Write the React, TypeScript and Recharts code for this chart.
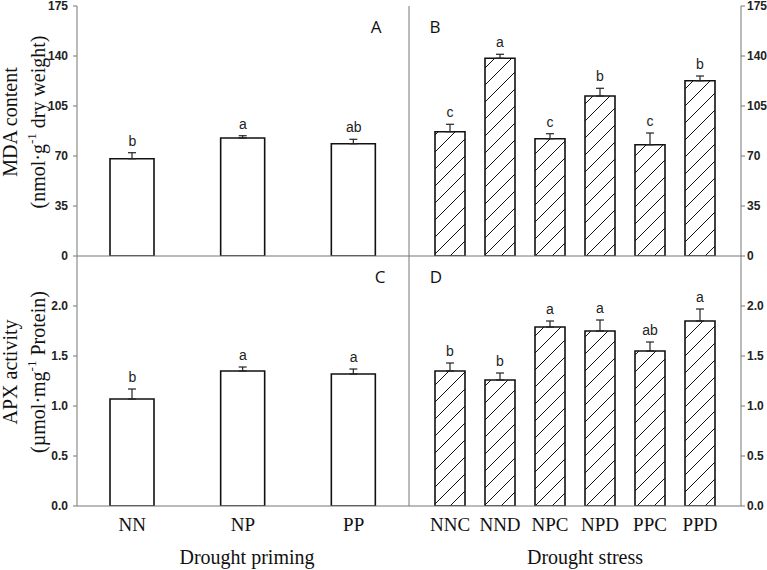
import {
  Bar,
  ComposedChart,
  ErrorBar,
  LabelList,
  Line,
  XAxis,
  YAxis
} from "recharts";

const primingCats = ["NN", "NP", "PP"];
const stressCats = ["NNC", "NND", "NPC", "NPD", "PPC", "PPD"];

const mdaPriming = [68.1, 82.6, 78.6];
const mdaPrimingErr = [4.2, 1.6, 3.1];
const mdaPrimingSig = ["b", "a", "ab"];

const mdaStress = [87.0, 138.4, 82.1, 112.0, 77.9, 122.7];
const mdaStressErr = [5.2, 2.8, 3.5, 5.4, 8.2, 3.3];
const mdaStressSig = ["c", "a", "c", "b", "c", "b"];

const apxPriming = [1.07, 1.35, 1.32];
const apxPrimingErr = [0.1, 0.04, 0.05];
const apxPrimingSig = ["b", "a", "a"];

const apxStress = [1.35, 1.26, 1.79, 1.75, 1.55, 1.85];
const apxStressErr = [0.08, 0.07, 0.06, 0.11, 0.09, 0.12];
const apxStressSig = ["b", "b", "a", "a", "ab", "a"];

const mdaTicks = [0, 35, 70, 105, 140, 175];
const apxTicks = [0, 0.5, 1.0, 1.5, 2.0];

const AXIS = "#777";
const SERIF = "'Liberation Serif', 'Times New Roman', serif";
const SANS = "'Liberation Sans', Arial, sans-serif";

function rows(cats: string[], vals: number[], errs: number[], sigs: string[]) {
  return cats.map((c, i) => ({
    cat: c,
    v: vals[i],
    err: [0, errs[i]],
    top: vals[i] + errs[i],
    sig: sigs[i]
  }));
}

function yTitle(line1: string, pre: string, post: string) {
  return (props: any) => {
    const vb = props.viewBox;
    const cy = vb.y + vb.height / 2 - 9;
    return (
      <g fontFamily={SERIF} fontSize={20} fill="#111">
        <text x={10} y={cy} transform={`rotate(-90 10 ${cy})`} textAnchor="middle" dominantBaseline="central">
          {line1}
        </text>
        <text x={38} y={cy} transform={`rotate(-90 38 ${cy})`} textAnchor="middle" dominantBaseline="central">
          {pre}
          <tspan dy={-7} fontSize={13}>-1</tspan>
          <tspan dy={7}>{post}</tspan>
        </text>
      </g>
    );
  };
}

type PanelProps = {
  data: any[];
  left: number;
  top: number;
  right?: boolean;
  bottom?: boolean;
  letter: string;
  letterX: number;
  ticks: number[];
  max: number;
  fmt: (v: number) => string;
  title?: any;
  xTitle?: string;
  xTitleDx?: number;
};

function Panel(p: PanelProps) {
  const width = p.right ? 367 : 420;
  const height = p.bottom ? 320 : 262;
  const tickStyle = { fontFamily: SANS, fontSize: 12, fontWeight: 700, fill: "#222" };
  return (
    <div style={{ position: "absolute", left: p.left, top: p.top }}>
      <ComposedChart
        width={width}
        height={height}
        data={p.data}
        margin={{ top: 6, right: p.right ? 0 : 11, bottom: 0, left: 0 }}
      >
        <defs>
          <pattern id="hatch" patternUnits="userSpaceOnUse" width={17} height={17}>
            <path d="M0,17 L17,0 M-4,4 L4,-4 M13,21 L21,13" stroke="#111" strokeWidth={1} />
          </pattern>
        </defs>
        <XAxis
          xAxisId="top"
          orientation="top"
          dataKey="cat"
          height={0}
          tick={false}
          tickLine={false}
          axisLine={{ stroke: AXIS }}
          padding={p.right ? { left: 16, right: 16 } : undefined}
        />
        <XAxis
          dataKey="cat"
          height={p.bottom ? 64 : 6}
          tick={p.bottom ? { fontFamily: SERIF, fontSize: 19, fill: "#111" } : false}
          tickLine={false}
          tickSize={0}
          tickMargin={12}
          interval={0}
          axisLine={{ stroke: AXIS }}
          padding={p.right ? { left: 16, right: 16 } : undefined}
          label={
            p.xTitle
              ? {
                  value: p.xTitle,
                  position: "insideBottom",
                  offset: 6,
                  dx: p.xTitleDx,
                  fontFamily: SERIF,
                  fontSize: 20,
                  fill: "#111"
                }
              : undefined
          }
        />
        <YAxis
          yAxisId="l"
          width={p.right ? 9 : 77}
          domain={[0, p.max]}
          ticks={p.right ? undefined : p.ticks}
          interval={0}
          tick={p.right ? false : tickStyle}
          tickLine={p.right ? false : { stroke: AXIS }}
          tickSize={4}
          tickMargin={5}
          tickFormatter={p.fmt}
          axisLine={{ stroke: AXIS }}
          allowDataOverflow
          label={p.title ? { content: p.title } : undefined}
        />
        <YAxis
          yAxisId="r"
          orientation="right"
          width={p.right ? 26 : 0}
          domain={[0, p.max]}
          ticks={p.ticks}
          interval={0}
          hide={!p.right}
          tick={tickStyle}
          tickLine={{ stroke: AXIS }}
          tickSize={4}
          tickMargin={2}
          tickFormatter={p.fmt}
          axisLine={{ stroke: AXIS }}
          allowDataOverflow
        />
        <Bar
          yAxisId="r"
          dataKey="v"
          fill={p.right ? "url(#hatch)" : "#fff"}
          stroke="#111"
          strokeWidth={1.6}
          barSize={p.right ? 30 : 44}
          isAnimationActive={false}
        >
          <ErrorBar dataKey="err" direction="y" width={4} stroke="#222" strokeWidth={1.2} />
        </Bar>
        <Line
          yAxisId="r"
          dataKey="top"
          stroke="none"
          dot={false}
          activeDot={false}
          isAnimationActive={false}
        >
          <LabelList dataKey="sig" position="top" offset={7} fontFamily={SANS} fontSize={14} fill="#222" />
        </Line>
        <text
          x={p.letterX}
          y={26}
          textAnchor="middle"
          dominantBaseline="central"
          fontFamily="'Open Sans', Arial, sans-serif"
          fontSize={17}
          fill="#111"
        >
          {p.letter}
        </text>
      </ComposedChart>
    </div>
  );
}

export default function App() {
  const mdaFmt = (v: number) => String(v);
  const apxFmt = (v: number) => v.toFixed(1);
  return (
    <div style={{ position: "absolute", left: 0, top: 0, width: 767, height: 570, background: "#fff" }}>
      <Panel
        data={rows(primingCats, mdaPriming, mdaPrimingErr, mdaPrimingSig)}
        left={0}
        top={0}
        letter="A"
        letterX={376}
        ticks={mdaTicks}
        max={175}
        fmt={mdaFmt}
        title={yTitle("MDA content", "(nmol·g", " dry weight)")}
      />
      <Panel
        data={rows(stressCats, mdaStress, mdaStressErr, mdaStressSig)}
        left={400}
        top={0}
        right
        letter="B"
        letterX={35}
        ticks={mdaTicks}
        max={175}
        fmt={mdaFmt}
      />
      <Panel
        data={rows(primingCats, apxPriming, apxPrimingErr, apxPrimingSig)}
        left={0}
        top={250}
        bottom
        letter="C"
        letterX={380}
        ticks={apxTicks}
        max={2.5}
        fmt={apxFmt}
        title={yTitle("APX activity", "(µmol·mg", " Protein)")}
        xTitle="Drought priming"
        xTitleDx={4}
      />
      <Panel
        data={rows(stressCats, apxStress, apxStressErr, apxStressSig)}
        left={400}
        top={250}
        right
        bottom
        letter="D"
        letterX={36}
        ticks={apxTicks}
        max={2.5}
        fmt={apxFmt}
        xTitle="Drought stress"
        xTitleDx={10}
      />
    </div>
  );
}
